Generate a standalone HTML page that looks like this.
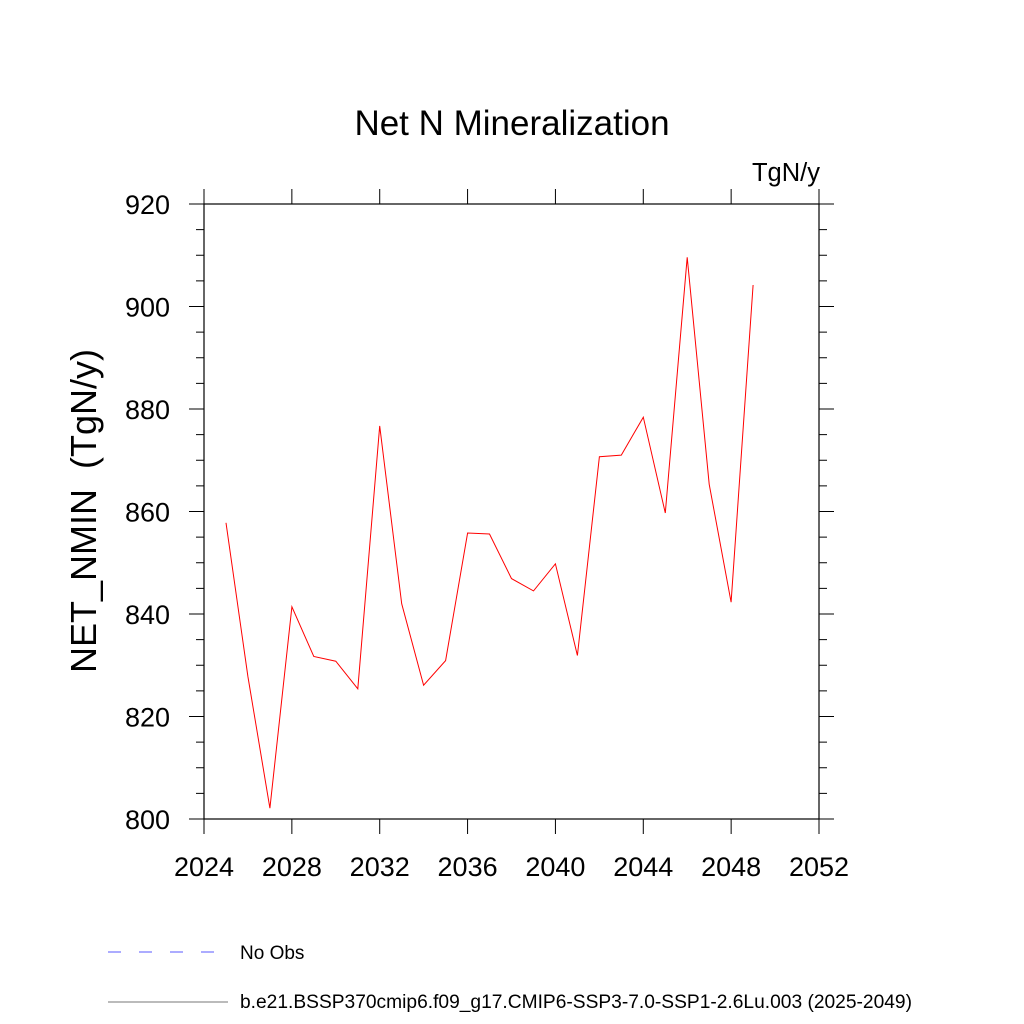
<!DOCTYPE html>
<html><head><meta charset="utf-8"><style>
body{margin:0;background:#fff;}
svg{display:block;font-family:"Liberation Sans",sans-serif;}
</style></head><body>
<svg id="chart" width="1024" height="1024" viewBox="0 0 1024 1024">
<text x="512" y="135" font-size="35" text-anchor="middle">Net N Mineralization</text>
<text x="820" y="181" font-size="25.5" text-anchor="end">TgN/y</text>
<text transform="translate(96,511) rotate(-90)" font-size="36" text-anchor="middle" style="white-space:pre">NET_NMIN  (TgN/y)</text>
<g id="axes"></g>
<g id="series"></g>
<line x1="108" y1="952" x2="215" y2="952" stroke="#5a5aff" stroke-width="1" stroke-dasharray="13,18"/>
<text x="240" y="959" font-size="19">No Obs</text>
<line x1="108" y1="1002" x2="228" y2="1002" stroke="#777" stroke-width="1"/>
<text x="240" y="1008" font-size="19.2">b.e21.BSSP370cmip6.f09_g17.CMIP6-SSP3-7.0-SSP1-2.6Lu.003 (2025-2049)</text>
</svg>
<script>
const years=[2025,2026,2027,2028,2029,2030,2031,2032,2033,2034,2035,2036,2037,2038,2039,2040,2041,2042,2043,2044,2045,2046,2047,2048,2049];
const values=[857.8,827.8,802.1,841.4,831.7,830.8,825.4,876.7,842.0,826.1,830.9,855.8,855.6,846.9,844.5,849.8,831.9,870.7,871.0,878.4,859.7,909.6,865.3,842.3,904.2];
const xTicks=[2024,2028,2032,2036,2040,2044,2048,2052];
const yTicks=[800,820,840,860,880,900,920];
const X0=204,X1=819,Y0=819,Y1=204;
const xs=v=>X0+(v-2024)/(2052-2024)*(X1-X0);
const ys=v=>Y0-(v-800)/(920-800)*(Y0-Y1);
const NS='http://www.w3.org/2000/svg';
const ax=document.getElementById('axes');
function mk(t,a,p){const e=document.createElementNS(NS,t);for(const k in a)e.setAttribute(k,a[k]);(p||ax).appendChild(e);return e;}
const fr=mk('rect',{x:X0,y:Y1,width:X1-X0,height:Y0-Y1,fill:'none',stroke:'#000','stroke-width':1.2});


for(let v=800;v<=920;v+=5){
  const y=ys(v),maj=v%20===0,L=maj?15:8;
  const a=mk('line',{x1:X0-L,y1:y,x2:X0,y2:y,stroke:'#000','stroke-width':1});
  
  
  const b=mk('line',{x1:X1,y1:y,x2:X1+L,y2:y,stroke:'#000','stroke-width':1});
  
  
}
yTicks.forEach(v=>{
  const t=mk('text',{x:X0-34,y:ys(v)+10,'font-size':27,'text-anchor':'end'});t.textContent=v;
  
  
});
xTicks.forEach(v=>{
  const x=xs(v);
  const a=mk('line',{x1:x,y1:Y0,x2:x,y2:Y0+15,stroke:'#000','stroke-width':1});
  
  
  const b=mk('line',{x1:x,y1:Y1-15,x2:x,y2:Y1,stroke:'#000','stroke-width':1});
  
  
  const t=mk('text',{x:x,y:876,'font-size':27,'text-anchor':'middle'});t.textContent=v;
  
  
});
const pts=years.map((y,i)=>xs(y).toFixed(1)+','+ys(values[i]).toFixed(1)).join(' ');
const pl=mk('polyline',{points:pts,fill:'none',stroke:'#ff0000','stroke-width':1},document.getElementById('series'));


</script>
</body></html>
